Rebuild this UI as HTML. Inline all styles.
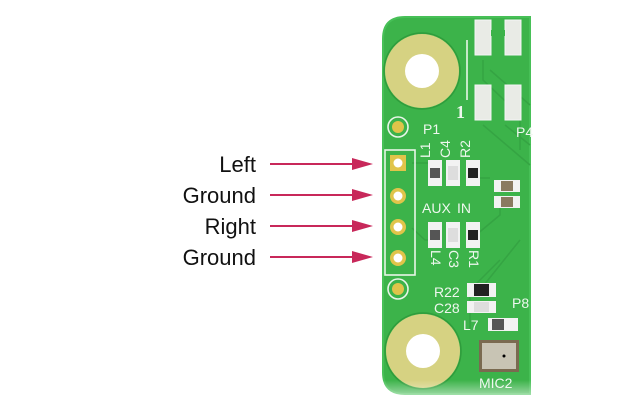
<!DOCTYPE html>
<html><head><style>
html,body{margin:0;padding:0;background:#fff;width:634px;height:411px;overflow:hidden}
svg{display:block}
</style></head><body>
<svg width="634" height="411" viewBox="0 0 634 411" xmlns="http://www.w3.org/2000/svg" font-family="Liberation Sans, sans-serif">
<defs>
<linearGradient id="fade" x1="0" y1="0" x2="0" y2="1">
<stop offset="0" stop-color="#fff" stop-opacity="0"/><stop offset="1" stop-color="#fff" stop-opacity="1"/>
</linearGradient>
</defs>
<path d="M405 17 H530 V394 H405 Q383 394 383 372 V39 Q383 17 405 17 Z" fill="#3cb34a"/>
<path d="M405 17 H530 V394 H405 Q383 394 383 372 V39 Q383 17 405 17 Z" fill="none" stroke="#47c057" stroke-width="2"/>
<g stroke="#35a443" stroke-width="1.5" fill="none">
<path d="M483 60 V80 L520 115 V150"/><path d="M490 70 L530 105"/>
<path d="M483 125 L530 165"/><path d="M505 125 L530 145"/>
<path d="M412 163 H440"/><path d="M412 228 L425 240 H440"/>
<path d="M470 178 H490"/><path d="M470 240 L500 215 V205"/>
<path d="M500 260 L470 290 V330"/><path d="M520 240 L480 290"/>
</g>
<circle cx="422" cy="71" r="37" fill="#d6d282"/>
<circle cx="422" cy="71" r="38" fill="none" stroke="#2f9c3c" stroke-width="1.5"/>
<circle cx="422" cy="71" r="17" fill="#fff"/>
<circle cx="423" cy="351" r="37" fill="#d6d282"/>
<circle cx="423" cy="351" r="38" fill="none" stroke="#2f9c3c" stroke-width="1.5"/>
<circle cx="423" cy="351" r="17" fill="#fff"/>
<g fill="none" stroke="#e8f5e8" stroke-width="1.6">
<rect x="385" y="150" width="30" height="125"/>
<circle cx="398" cy="127" r="10"/><circle cx="398" cy="289" r="10"/>
</g>
<line x1="467" y1="40" x2="467" y2="100" stroke="#e8f5e8" stroke-width="1.6"/>
<circle cx="398" cy="127" r="6" fill="#e0c44a"/>
<circle cx="398" cy="289" r="6" fill="#e0c44a"/>
<rect x="390" y="155" width="16" height="16" fill="#e0c44a"/><circle cx="398" cy="163" r="4.5" fill="#fff"/>
<circle cx="398" cy="196" r="8" fill="#e0c44a"/><circle cx="398" cy="196" r="4.5" fill="#fff"/>
<circle cx="398" cy="227" r="8" fill="#e0c44a"/><circle cx="398" cy="227" r="4.5" fill="#fff"/>
<circle cx="398" cy="258" r="8" fill="#e0c44a"/><circle cx="398" cy="258" r="4.5" fill="#fff"/>
<g fill="#e9ebe6" stroke="#f5f5f5">
<rect x="475" y="20" width="16" height="35"/><rect x="505" y="20" width="16" height="35"/>
<rect x="475" y="85" width="16" height="35"/><rect x="505" y="85" width="16" height="35"/>
<rect x="491" y="30" width="14" height="6" fill="#3cb34a" stroke="none"/>
</g>
<g>
<rect x="428" y="160" width="14" height="26" fill="#f2f2f2"/><rect x="430" y="168" width="10" height="10" fill="#555"/>
<rect x="446" y="160" width="14" height="26" fill="#f2f2f2"/><rect x="448" y="166" width="10" height="14" fill="#ddd"/>
<rect x="466" y="160" width="14" height="26" fill="#f2f2f2"/><rect x="468" y="168" width="10" height="10" fill="#222"/>
<rect x="428" y="222" width="14" height="26" fill="#f2f2f2"/><rect x="430" y="230" width="10" height="10" fill="#555"/>
<rect x="446" y="222" width="14" height="26" fill="#f2f2f2"/><rect x="448" y="228" width="10" height="14" fill="#ddd"/>
<rect x="466" y="222" width="14" height="26" fill="#f2f2f2"/><rect x="468" y="230" width="10" height="10" fill="#222"/>
<rect x="494" y="180" width="26" height="12" fill="#f2f2f2"/><rect x="501" y="181" width="12" height="10" fill="#8a7a60"/>
<rect x="494" y="196" width="26" height="12" fill="#f2f2f2"/><rect x="501" y="197" width="12" height="10" fill="#8a7a60"/>
<rect x="467" y="283" width="29" height="14" fill="#f2f2f2"/><rect x="474" y="284" width="15" height="12" fill="#222"/>
<rect x="467" y="301" width="29" height="12" fill="#f2f2f2"/><rect x="474" y="302" width="15" height="10" fill="#ddd"/>
<rect x="488" y="318" width="30" height="13" fill="#f2f2f2"/><rect x="492" y="319" width="12" height="11" fill="#555"/>
<rect x="479" y="340" width="40" height="32" fill="#7a6a50"/><rect x="482" y="343" width="34" height="26" fill="#c8c4b4"/>
<circle cx="504" cy="356" r="1.5" fill="#000"/>
</g>
<g fill="#eef7ee" font-size="14">
<text x="456" y="118" font-size="18" font-weight="bold" font-family="Liberation Serif, serif">1</text>
<text x="423" y="134">P1</text>
<text x="422" y="213">AUX</text><text x="457" y="213">IN</text>
<text x="516" y="137">P4</text>
<text x="434" y="297">R22</text><text x="434" y="313">C28</text>
<text x="463" y="330">L7</text><text x="512" y="308">P8</text>
<text x="479" y="388">MIC2</text>
<text transform="translate(430,158) rotate(-90)" text-anchor="start">L1</text>
<text transform="translate(450,158) rotate(-90)">C4</text>
<text transform="translate(470,158) rotate(-90)">R2</text>
<text transform="translate(431,250) rotate(90)">L4</text>
<text transform="translate(449,250) rotate(90)">C3</text>
<text transform="translate(469,250) rotate(90)">R1</text>
</g>
<rect x="383" y="380" width="150" height="31" fill="url(#fade)"/>
<g font-size="22" fill="#111" text-anchor="end">
<text x="256" y="172">Left</text>
<text x="256" y="203">Ground</text>
<text x="256" y="234">Right</text>
<text x="256" y="265">Ground</text>
</g>
<g stroke="#c8285a" stroke-width="2">
<line x1="270" y1="164" x2="356" y2="164"/><line x1="270" y1="195" x2="356" y2="195"/>
<line x1="270" y1="226" x2="356" y2="226"/><line x1="270" y1="257" x2="356" y2="257"/>
</g>
<g fill="#c8285a">
<polygon points="352,158 373,164 352,170"/><polygon points="352,189 373,195 352,201"/>
<polygon points="352,220 373,226 352,232"/><polygon points="352,251 373,257 352,263"/>
</g>
</svg>
</body></html>
